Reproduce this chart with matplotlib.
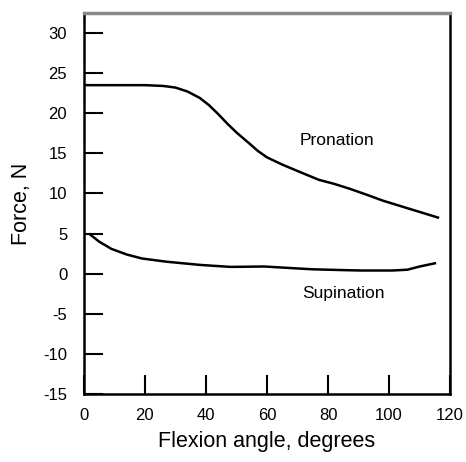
import numpy as np
import matplotlib
matplotlib.use('Agg')
import matplotlib.pyplot as plt

# data
pron_x = [0, 10, 20, 26, 30, 34, 38, 41, 44, 47, 50, 54, 57, 60, 65, 70, 77, 82, 87, 93, 98, 104, 110, 116]
pron_y = [23.5, 23.5, 23.5, 23.4, 23.2, 22.7, 21.9, 21.0, 19.9, 18.7, 17.6, 16.3, 15.3, 14.5, 13.6, 12.8, 11.7, 11.2, 10.6, 9.8, 9.1, 8.4, 7.7, 7.0]
sup_x = [2, 5, 9, 14, 19, 27, 38, 48, 59, 68, 75, 85, 91, 101, 106, 110, 115]
sup_y = [4.9, 4.0, 3.1, 2.4, 1.9, 1.5, 1.1, 0.85, 0.9, 0.7, 0.55, 0.45, 0.4, 0.4, 0.5, 0.9, 1.3]

plt.rc('font', family=['Liberation Sans', 'DejaVu Sans'])
plt.rcParams['axes.unicode_minus'] = False
fig = plt.figure(figsize=(4.66, 4.62), dpi=100)
ax = fig.add_axes([0.180, 0.147, 0.786, 0.825])

ax.plot(pron_x, pron_y, color='black', linewidth=1.8)
ax.plot(sup_x, sup_y, color='black', linewidth=1.8)

ax.text(83, 16.6, 'Pronation', fontsize=12.5, ha='center', va='center')
ax.text(85, -2.5, 'Supination', fontsize=12.5, ha='center', va='center')

ax.set_xlim(0, 120)
ax.set_ylim(-15, 32.5)
ax.set_xticks([0, 20, 40, 60, 80, 100, 120])
ax.set_yticks(np.arange(-15, 31, 5))
ax.tick_params(direction='in', length=14, width=1.5, labelsize=12)
ax.tick_params(axis='x', pad=10)
ax.tick_params(axis='y', pad=12)

for s in ax.spines.values():
    s.set_linewidth(1.8)
ax.spines['top'].set_color('#888888')
ax.spines['top'].set_linewidth(2.5)

ax.set_xlabel('Flexion angle, degrees', fontsize=15.5, labelpad=6)
ax.set_ylabel('Force, N', fontsize=15.5, labelpad=8)

fig.savefig('out.png', dpi=100)
